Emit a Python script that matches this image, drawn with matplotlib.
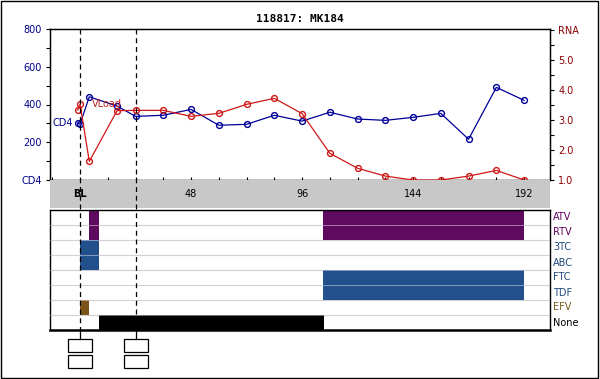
import matplotlib
matplotlib.use("Agg")
import matplotlib.pyplot as plt
from matplotlib.lines import Line2D
from matplotlib.patches import Rectangle

title = "118817: MK184"

# CD4 counts (cells/uL) by week
cd4_weeks = [-1, 0, 4, 16, 24, 36, 48, 60, 72, 84, 96, 108, 120, 132, 144, 156, 168, 180, 192]
cd4_vals = [302, 296, 441, 392, 337, 343, 374, 290, 295, 343, 312, 359, 323, 316, 332, 353, 216, 491, 422]

# viral load (log10 RNA) by week
rna_weeks = [-1, 0, 4, 16, 24, 36, 48, 60, 72, 84, 96, 108, 120, 132, 144, 156, 168, 180, 192]
rna_vals = [3.33, 3.52, 1.62, 3.31, 3.32, 3.32, 3.12, 3.22, 3.52, 3.72, 3.21, 1.89, 1.39, 1.13, 1.0, 1.0, 1.13, 1.32, 1.0]

# drug regimen rows (top to bottom) and their periods in weeks
drugs = ["ATV", "RTV", "3TC", "ABC", "FTC", "TDF", "EFV", "None"]
drug_periods = {
    "ATV": [(4, 8), (105, 192)],
    "RTV": [(4, 8), (105, 192)],
    "3TC": [(0, 8)],
    "ABC": [(0, 8)],
    "FTC": [(105, 192)],
    "TDF": [(105, 192)],
    "EFV": [(0, 4)],
    "None": [(8, 105.5)],
}
drug_colors = {"ATV": "#5e0a5e", "RTV": "#5e0a5e", "3TC": "#21508c", "ABC": "#21508c",
               "FTC": "#21508c", "TDF": "#21508c", "EFV": "#7a5418", "None": "#000000"}
label_colors = {"ATV": "#600060", "RTV": "#600060", "3TC": "#204a80", "ABC": "#204a80",
                "FTC": "#204a80", "TDF": "#204a80", "EFV": "#7a5a20", "None": "#000000"}

# week labels along the bottom of the top plot
xlabel_weeks = [0, 48, 96, 144, 192]
xlabel_text = ["BL", "48", "96", "144", "192"]
visit_weeks = [0, 24]

plt.rcParams["font.family"] = "DejaVu Sans"
fig = plt.figure(figsize=(6, 3.79), dpi=100)
W, H = 600.0, 379.0

def box(x0, y0, x1, y1):
    # pixel box (top-left origin) -> figure fraction rect
    return [x0 / W, 1 - y1 / H, (x1 - x0) / W, (y1 - y0) / H]

xmin, xmax = -13, 203.2
navy = "#000088"
dred = "#8b0000"

# top plot
ax = fig.add_axes(box(50, 29, 550, 180))
ax.plot(cd4_weeks, cd4_vals, color="#000099", lw=0.9, marker="o", ms=4.2,
        mfc="none", mec="#000099", mew=1.0, zorder=3)
ax.set_xlim(xmin, xmax)
ax.set_ylim(0, 800)
ax.set_yticks([0, 200, 400, 600, 800])
ax.set_yticklabels(["CD4", "200", "400", "600", "800"])
ax.set_yticks(range(100, 800, 200), minor=True)
ax.tick_params(axis="y", which="both", direction="out", length=3, width=0.8,
               labelsize=7, labelcolor=navy, pad=3)
ax.set_xticks(range(-12, 200, 12))
ax.set_xticklabels([])
ax.tick_params(axis="x", direction="inout", length=5, width=0.8)
for s in ax.spines.values():
    s.set_linewidth(1.0)

ax2 = ax.twinx()
ax2.plot(rna_weeks, rna_vals, color="#d01818", lw=0.9, marker="o", ms=4.2,
         mfc="none", mec="#d01818", mew=1.0, zorder=3)
ax2.set_ylim(1.0, 6.03)
ax2.set_yticks([1, 2, 3, 4, 5, 6])
ax2.set_yticklabels(["1.0", "2.0", "3.0", "4.0", "5.0", "RNA"])
ax2.set_yticks([1.5, 2.5, 3.5, 4.5, 5.5], minor=True)
ax2.tick_params(axis="y", which="both", direction="out", length=3, width=0.8,
                labelsize=7, labelcolor=dred, pad=3)
ax2.set_xlim(xmin, xmax)

ax.text(cd4_weeks[0] - 2, cd4_vals[0], "CD4", color=navy, fontsize=7,
        ha="right", va="center")
ax2.text(rna_weeks[1] + 5, rna_vals[1], "VLoad", color="#c02020", fontsize=7,
         ha="left", va="center")

ax.set_title(title, fontsize=8, fontweight="bold", family="DejaVu Sans Mono", pad=5)

# gray week band
axg = fig.add_axes(box(50, 180, 550, 208))
axg.set_facecolor("#c8c8c8")
axg.set_xlim(xmin, xmax)
axg.set_ylim(0, 1)
axg.set_xticks([])
axg.set_yticks([])
for s in axg.spines.values():
    s.set_visible(False)
for wk, lab in zip(xlabel_weeks, xlabel_text):
    axg.text(wk, 0.5, lab, ha="center", va="center", fontsize=7,
             fontweight="bold" if lab == "BL" else "normal")

# regimen panel
axd = fig.add_axes(box(50, 210, 550, 330))
axd.set_xlim(xmin, xmax)
axd.set_ylim(len(drugs), 0)
for i in range(1, len(drugs)):
    axd.axhline(i, color="#c0c0c0", lw=0.8, zorder=1)
for i, d in enumerate(drugs):
    for a, b in drug_periods[d]:
        axd.add_patch(Rectangle((a, i), b - a, 1, color=drug_colors[d], lw=0, zorder=2))
    axd.text(1.006, 1 - (i + 0.5) / len(drugs), d, transform=axd.transAxes,
             color=label_colors[d], fontsize=7, ha="left", va="center")
for i in range(1, len(drugs)):
    axd.axhline(i, color="#e8e0f0", lw=0.6, alpha=0.6, zorder=3)
axd.set_xticks([])
axd.set_yticks([])
for s in axd.spines.values():
    s.set_linewidth(1.0)
axd.spines["bottom"].set_linewidth(1.8)

# visit markers: dashed lines through all panels, then boxes below
fig.canvas.draw()
to_fig = ax.transData + fig.transFigure.inverted()
for wk in visit_weeks:
    xf = to_fig.transform((wk, 0))[0]
    fig.add_artist(Line2D([xf, xf], [1 - 29 / H, 1 - 330 / H], color="black",
                          lw=0.9, ls=(0, (4, 3)), zorder=10))
    fig.add_artist(Line2D([xf, xf], [1 - 330 / H, 1 - 339 / H], color="black", lw=0.9))
    xp = xf * W
    for y0, y1 in [(339, 352), (355, 368)]:
        fig.add_artist(Rectangle((xp / W - 12 / W, 1 - y1 / H), 24 / W, (y1 - y0) / H,
                                 transform=fig.transFigure, fill=False,
                                 edgecolor="black", lw=0.9))

# outer frame
fig.add_artist(Rectangle((0.5 / W, 1.5 / H), 597.5 / W, 376.5 / H,
                         transform=fig.transFigure, fill=False, edgecolor="black", lw=1.0))

fig.savefig("out.png", dpi=100)
